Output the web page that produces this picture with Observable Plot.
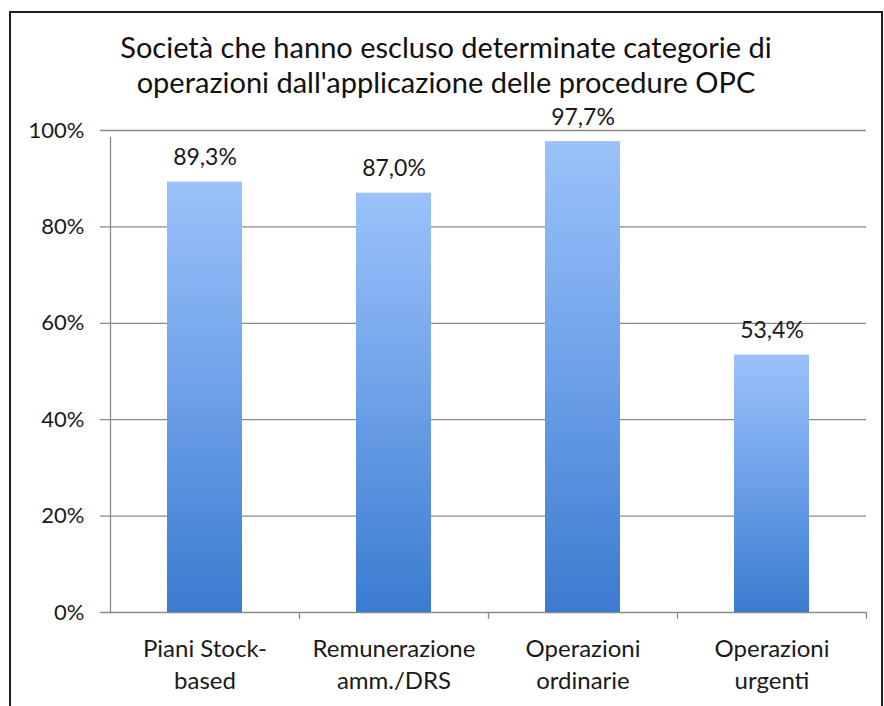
<!DOCTYPE html>
<html>
<head>
<meta charset="utf-8">
<script src="https://cdn.jsdelivr.net/npm/d3@7"></script>
<script src="https://cdn.jsdelivr.net/npm/@observablehq/plot@0.6"></script>
<style>
  html, body { margin: 0; padding: 0; background: #fff; }
  #wrap { position: relative; width: 884px; height: 706px; overflow: hidden; background: #fff; font-family: Lato, "Open Sans", sans-serif; }
  #frame { position: absolute; left: 9px; top: 11px; width: 874px; height: 720px; border-top: 2px solid #1e1e1e; border-left: 2px solid #1e1e1e; border-right: 2px solid #1e1e1e; box-sizing: border-box; }
  #title { position: absolute; left: 0; width: 892px; top: 29px; text-align: center; font-size: 29px; line-height: 35px; color: #111; }
  #chart { position: absolute; left: 0; top: 100px; }
</style>
</head>
<body>
<div id="wrap">
  <div id="frame"></div>
  <div id="title">Società che hanno escluso determinate categorie di<br>operazioni dall'applicazione delle procedure OPC</div>
  <div id="chart"></div>
</div>
<script>
const categories = ["Piani Stock-based", "Remunerazione amm./DRS", "Operazioni ordinarie", "Operazioni urgenti"];
const tickLabels = ["Piani Stock-\nbased", "Remunerazione\namm./DRS", "Operazioni\nordinarie", "Operazioni\nurgenti"];
const values = [89.3, 87.0, 97.7, 53.4];
const valueLabels = ["89,3%", "87,0%", "97,7%", "53,4%"];
const yTicks = [0, 20, 40, 60, 80, 100];

const data = categories.map((c, i) => ({cat: c, value: values[i], label: valueLabels[i]}));
const labelOf = new Map(categories.map((c, i) => [c, tickLabels[i]]));
const gridColor = "#8a8a8a";

const chart = Plot.plot({
  width: 884,
  height: 606,
  marginTop: 30,
  marginBottom: 94,
  marginLeft: 110,
  marginRight: 18,
  x: {domain: categories, padding: 0, label: null},
  y: {domain: [0, 100], label: null},
  style: {fontFamily: "Lato, 'Open Sans', sans-serif", color: "#1a1a1a", background: "transparent"},
  marks: [
    Plot.ruleY(yTicks, {stroke: gridColor, strokeWidth: 1.3, insetLeft: -10}),
    Plot.barY(data, {x: "cat", y: "value", fill: "url(#barGrad)", insetLeft: 57, insetRight: 57}),
    Plot.ruleX([categories[0]], {dx: -94.5, y1: 0, y2: 100, insetBottom: -7, stroke: gridColor, strokeWidth: 1.3}),
    Plot.ruleX(categories, {dx: 94.5, y1: 0, y2: 0, insetBottom: -7, stroke: gridColor, strokeWidth: 1.3}),
    Plot.text(data, {x: "cat", y: "value", text: "label", dy: -17, lineAnchor: "bottom", fontSize: 23, fill: "#1a1a1a"}),
    Plot.axisY({ticks: yTicks, tickFormat: d => d + "%", tickSize: 0, tickPadding: 26, fontSize: 22, label: null}),
    Plot.axisX({tickSize: 0, tickPadding: 22, tickFormat: d => labelOf.get(d), fontSize: 24, lineHeight: 1.33, label: null})
  ]
});

d3.select(chart).insert("defs", ":first-child").html(
  '<linearGradient id="barGrad" x1="0" y1="0" x2="0" y2="1">' +
  '<stop offset="0" stop-color="#9bc2fa"/>' +
  '<stop offset="0.5" stop-color="#6ca0e8"/>' +
  '<stop offset="1" stop-color="#3b7bcf"/>' +
  '</linearGradient>'
);

document.getElementById("chart").appendChild(chart);
</script>
</body>
</html>
